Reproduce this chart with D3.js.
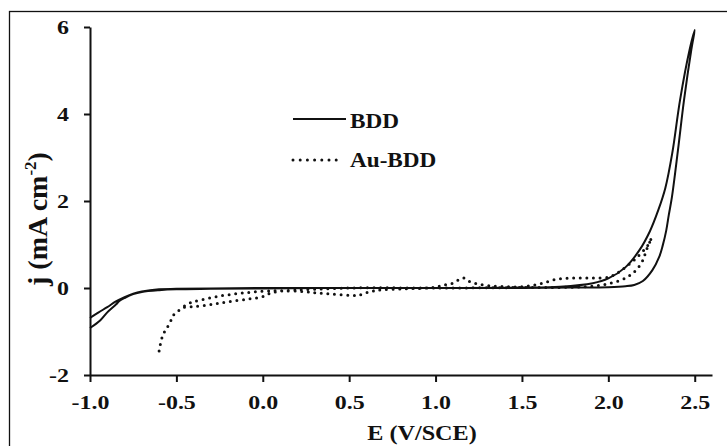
<!DOCTYPE html>
<html>
<head>
<meta charset="utf-8">
<script src="https://cdn.jsdelivr.net/npm/d3@7"></script>
<style>
  html, body { margin: 0; padding: 0; background: #fff; }
  svg { display: block; }
  text { font-family: "Liberation Serif", "Times New Roman", serif; font-weight: bold; fill: #111; }
</style>
</head>
<body>
<svg id="chart" width="727" height="446"></svg>
<script>
// ---- Data ----
// BDD: scan out (early-onset branch) from -1.0 V to 2.5 V
const bddOutE = [-1.0,-0.95,-0.9,-0.85,-0.8,-0.75,-0.7,-0.6,-0.5,-0.3,0.0,0.5,1.0,1.5,1.72,1.91,2.0,2.1,2.18,2.24,2.29,2.33,2.37,2.415,2.47,2.5];
const bddOutJ = [-0.69,-0.56,-0.44,-0.31,-0.21,-0.13,-0.08,-0.03,-0.02,-0.01,0,0,0,0.01,0.03,0.11,0.22,0.48,0.87,1.3,1.8,2.3,3.1,4.32,5.47,5.93];
// BDD: return branch from the top back to -1.0 V
const bddBackE = [2.48,2.438,2.403,2.368,2.35,2.335,2.315,2.295,2.255,2.2,2.15,2.1,2.0,1.8,1.5,1.0,0.5,0.0,-0.3,-0.5,-0.6,-0.7,-0.75,-0.8,-0.83,-0.85,-0.9,-0.94,-1.0];
const bddBackJ = [5.47,4.32,3.17,2.09,1.68,1.32,0.98,0.72,0.41,0.16,0.07,0.04,0.02,0.01,0,0,0,-0.01,-0.02,-0.03,-0.05,-0.09,-0.14,-0.23,-0.3,-0.38,-0.56,-0.74,-0.92];

// Au-BDD: from -0.6 V up to 2.25 V
const auOutE = [-0.6,-0.58,-0.555,-0.535,-0.52,-0.49,-0.46,-0.40,-0.32,-0.25,-0.17,-0.075,0.0,0.05,0.115,0.23,0.31,0.40,0.50,0.55,0.60,0.65,0.70,0.80,0.90,1.0,1.05,1.1,1.16,1.2,1.25,1.31,1.4,1.5,1.6,1.7,1.8,1.9,2.0,2.05,2.1,2.17,2.23,2.25];
const auOutJ = [-1.45,-1.1,-0.92,-0.78,-0.64,-0.53,-0.45,-0.43,-0.39,-0.35,-0.3,-0.25,-0.2,-0.11,-0.07,-0.08,-0.11,-0.14,-0.17,-0.17,-0.11,-0.06,-0.04,-0.02,-0.01,0.02,0.07,0.11,0.23,0.14,0.09,0.05,0.03,0.03,0.09,0.2,0.23,0.23,0.25,0.34,0.48,0.72,0.99,1.15];
// Au-BDD: return branch
const auBackE = [2.22,2.2,2.16,2.1,2.0,1.9,1.8,1.5,1.0,0.5,0.115,0.02,-0.075,-0.17,-0.27,-0.36,-0.42,-0.46];
const auBackJ = [0.87,0.64,0.41,0.23,0.1,0.04,0.02,0.01,0,0,-0.06,-0.07,-0.1,-0.14,-0.2,-0.28,-0.34,-0.43];

const xTicks = [-1.0,-0.5,0.0,0.5,1.0,1.5,2.0,2.5];
const xTickLabels = ["-1.0","-0.5","0.0","0.5","1.0","1.5","2.0","2.5"];
const yTicks = [-2,0,2,4,6];
const yTickLabels = ["-2","0","2","4","6"];
const seriesNames = ["BDD","Au-BDD"];
const xTitle = "E (V/SCE)";

// ---- Drawing ----
const svg = d3.select("#chart");

// outer frame
svg.append("rect").attr("x",9.5).attr("y",11.5).attr("width",800).attr("height",500)
   .attr("fill","none").attr("stroke","#111").attr("stroke-width",1.3);

const x = d3.scaleLinear().domain([-1, 2.6]).range([90, 712]);
const y = d3.scaleLinear().domain([-2, 6]).range([375, 27]);

const line = d3.line().x(d => x(d[0])).y(d => y(d[1])).curve(d3.curveCatmullRom.alpha(0.5));

const zip = (a, b) => a.map((v, i) => [v, b[i]]);
const bddPts = zip(bddOutE, bddOutJ).concat(zip(bddBackE, bddBackJ));
const auPts = zip(auOutE, auOutJ).concat(zip(auBackE, auBackJ));

// axes
const xAxis = d3.axisBottom(x).tickValues(xTicks).tickSize(7).tickSizeOuter(0)
  .tickFormat((d, i) => xTickLabels[i]);
const yAxis = d3.axisLeft(y).tickValues(yTicks).tickSize(6).tickSizeOuter(0)
  .tickFormat((d, i) => yTickLabels[i]);

const gx = svg.append("g").attr("transform", `translate(0,${y(-2)})`).call(xAxis);
const gy = svg.append("g").attr("transform", `translate(${x(-1)},0)`).call(yAxis);

[gx, gy].forEach(g => {
  g.select(".domain").attr("stroke","#111").attr("stroke-width",2);
  g.selectAll(".tick line").attr("stroke","#111").attr("stroke-width",2);
  g.selectAll(".tick text").attr("fill","#111").attr("font-size",19)
    .attr("font-family","'Liberation Serif', 'Times New Roman', serif").attr("font-weight","bold");
});
const sx = 1.26;
gx.selectAll(".tick text").attr("y",34).attr("dy",0).attr("transform",`scale(${sx},1)`);
gy.selectAll(".tick text").attr("x",-21 / sx).attr("dy","0.34em").attr("transform",`scale(${sx},1)`);

// curves
svg.append("path").datum(bddPts).attr("d", line)
  .attr("fill","none").attr("stroke","#111").attr("stroke-width",2).attr("stroke-linejoin","round");
svg.append("path").datum(auPts).attr("d", line)
  .attr("fill","none").attr("stroke","#111").attr("stroke-width",3)
  .attr("stroke-dasharray","0 6.6").attr("stroke-linecap","round");

// legend
const lg = svg.append("g");
lg.append("line").attr("x1",293).attr("x2",346).attr("y1",119).attr("y2",119)
  .attr("stroke","#111").attr("stroke-width",2);
lg.append("line").attr("x1",293).attr("x2",339).attr("y1",160).attr("y2",160)
  .attr("stroke","#111").attr("stroke-width",3).attr("stroke-dasharray","0 7.2").attr("stroke-linecap","round");
const ls = 1.16;
lg.append("text").attr("transform",`translate(350,127.5) scale(${ls},1)`).attr("font-size",20).text(seriesNames[0]);
lg.append("text").attr("transform",`translate(350,166.5) scale(${ls},1)`).attr("font-size",20).text(seriesNames[1]);

// axis titles
svg.append("text").attr("transform",`translate(422,440) scale(1.21,1)`).attr("text-anchor","middle")
  .attr("font-size",20).text(xTitle);

const yt = svg.append("text").attr("transform","translate(47,219) rotate(-90)")
  .attr("text-anchor","middle").attr("font-size",28);
yt.append("tspan").text("j (mA cm");
yt.append("tspan").attr("font-size",17).attr("dy",-11).text("-2");
yt.append("tspan").attr("dy",11).text(")");
</script>
</body>
</html>
